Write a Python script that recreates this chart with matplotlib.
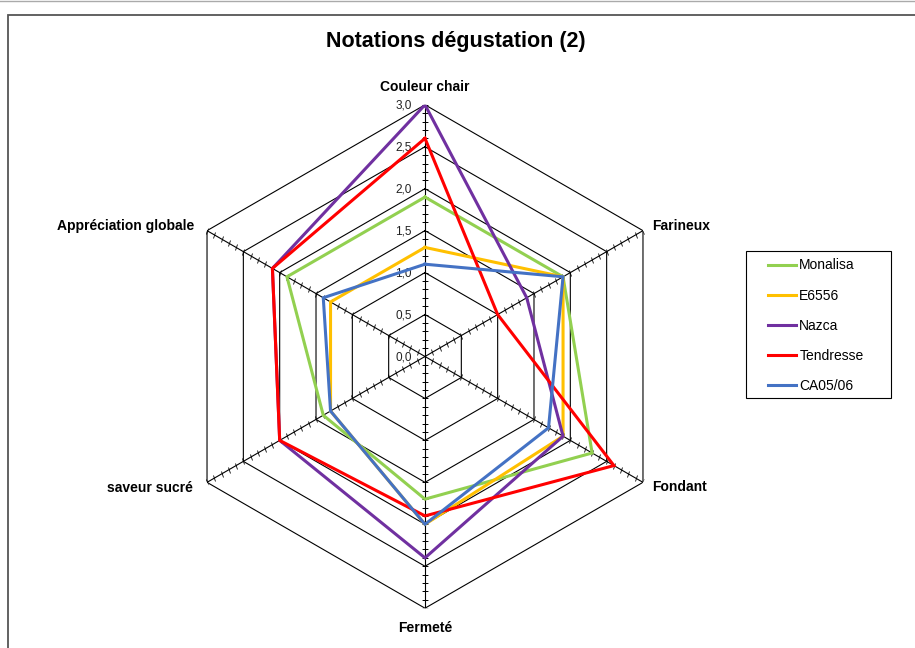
import numpy as np
import matplotlib.pyplot as plt
from matplotlib.markers import MarkerStyle
from matplotlib.transforms import Affine2D
from matplotlib.patches import Rectangle
from matplotlib.lines import Line2D

plt.rcParams['font.family'] = ['Liberation Sans', 'DejaVu Sans']

categories = ["Couleur chair", "Farineux", "Fondant", "Fermeté", "saveur sucré", "Appréciation globale"]
series = ["Monalisa", "E6556", "Nazca", "Tendresse", "CA05/06"]
monalisa = [1.9, 1.9, 2.3, 1.7, 1.4, 1.9]
e6556 = [1.3, 1.9, 1.9, 2.0, 1.3, 1.3]
nazca = [3.0, 1.4, 1.9, 2.4, 2.0, 2.1]
tendresse = [2.6, 1.0, 2.6, 1.9, 2.0, 2.1]
ca0506 = [1.1, 1.9, 1.7, 2.0, 1.3, 1.4]
radial_ticks = [0.0, 0.5, 1.0, 1.5, 2.0, 2.5, 3.0]

colors = ["#92D050", "#FFC000", "#7030A0", "#FF0000", "#4472C4"]
values = [monalisa, e6556, nazca, tendresse, ca0506]

W, H = 915, 648
cx, cy, R = 425, 356.5, 251.7

fig = plt.figure(figsize=(W / 100, H / 100), dpi=100)
ax = fig.add_axes([(cx - R) / W, (H - cy - R) / H, 2 * R / W, 2 * R / H], projection="polar")
ax.set_theta_zero_location("N")
ax.set_theta_direction(-1)
ax.set_ylim(0, 3)
ax.grid(False)
ax.set_xticks([])
ax.set_yticks([])
ax.spines["polar"].set_visible(False)
ax.patch.set_alpha(0)

n = len(categories)
angles = np.arange(n) * 2 * np.pi / n
closed = np.append(angles, angles[0])

# hexagon grid
for r in radial_ticks[1:]:
    ax.plot(closed, [r] * (n + 1), color="black", lw=0.8, zorder=1)

# spokes with small cross ticks every 0.1
minor = np.arange(1, 31) / 10
for k, a in enumerate(angles):
    ax.plot([a, a], [0, 3], color="black", lw=0.8, zorder=1)
    deg = np.degrees(a)
    m = MarkerStyle("_", transform=Affine2D().rotate_deg(-deg))
    ax.plot([a] * len(minor), minor, ls="none", marker=m, ms=4.2, mew=0.6, color="black", zorder=1)

# radial labels
for r in radial_ticks:
    ax.annotate(f"{r:.1f}".replace(".", ","), xy=(0, r), xytext=(-13, -1),
                textcoords="offset pixels", ha="right", va="center", fontsize=8.5, color="#222222")

# category labels
offsets = [(0, 18, "center"), (9, 5, "left"), (9, -5, "left"),
           (0, -20, "center"), (-14, -6, "right"), (-13, 5, "right")]
for a, lab, (dx, dy, ha) in zip(angles, categories, offsets):
    ax.annotate(lab, xy=(a, 3), xytext=(dx, dy), textcoords="offset pixels",
                ha=ha, va="center", fontsize=10, fontweight="bold")

handles = []
for name, vals, c in zip(series, values, colors):
    h, = ax.plot(closed, vals + [vals[0]], color=c, lw=2.2, label=name, zorder=3,
                 solid_joinstyle="miter")
    handles.append(h)

# legend entries without frame, frame drawn separately (Excel-like padding)
fig.legend(handles=handles, loc="upper left", bbox_to_anchor=(768 / W, 1 - 258.5 / H),
           fontsize=10, frameon=False, borderpad=0, handlelength=2.05,
           handletextpad=0.2, labelspacing=1.16, borderaxespad=0)
fig.add_artist(Rectangle((745.7 / W, 1 - 398 / H), (891 - 745.7) / W, (398 - 250.7) / H,
                         transform=fig.transFigure, fill=False, edgecolor="black", lw=0.8))

fig.text(456 / W, 1 - 42 / H, "Notations dégustation (2)", ha="center", va="center",
         fontsize=15.5, fontweight="bold")

# outer frame
fig.add_artist(Rectangle((8 / W, -0.05), 1.2, 1 - 15 / H + 0.05, transform=fig.transFigure,
                         fill=False, edgecolor="#555555", lw=1.3))
fig.add_artist(Line2D([0, 1], [1 - 0.5 / H, 1 - 0.5 / H], transform=fig.transFigure,
                      color="#aaaaaa", lw=1))

fig.savefig("out.png", dpi=100)
